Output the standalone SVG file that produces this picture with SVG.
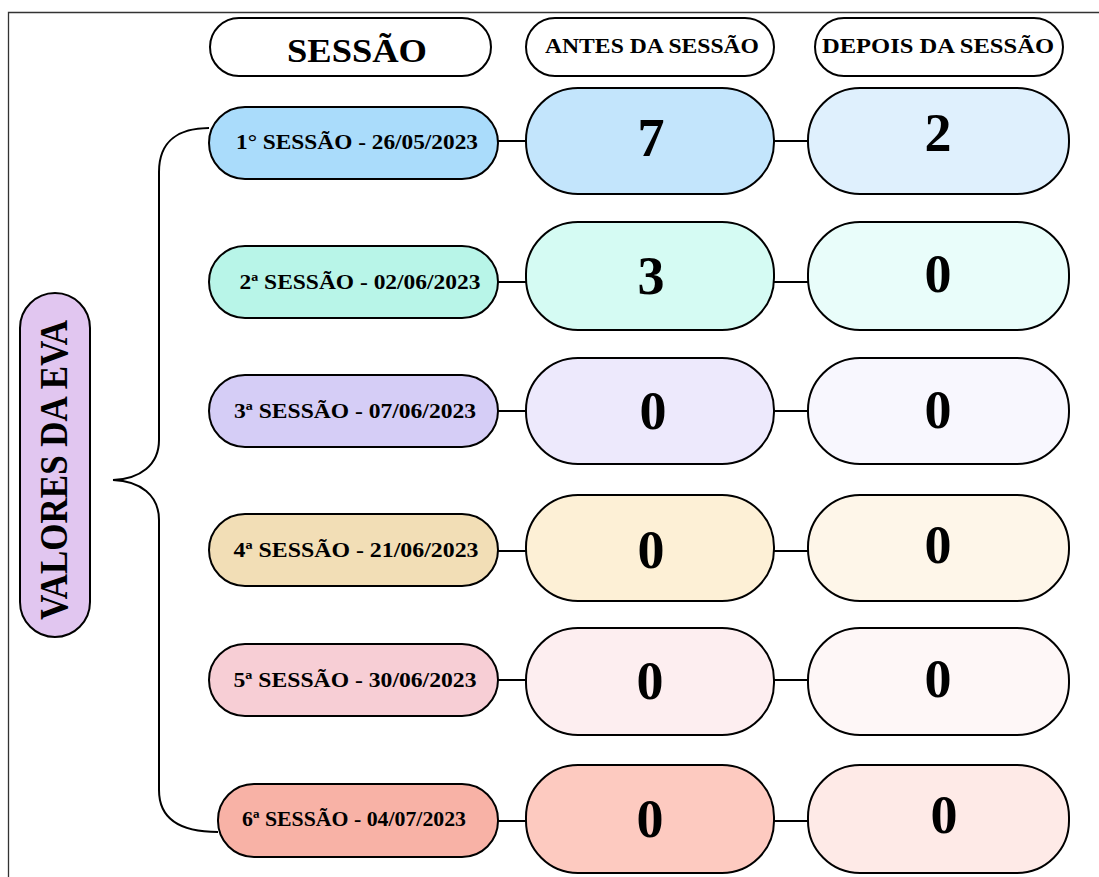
<svg xmlns="http://www.w3.org/2000/svg" width="1099" height="877" viewBox="0 0 1099 877">
<style>
.n{stroke:#000;stroke-width:2}
.c{stroke:#000;stroke-width:2;fill:none}
.t{font-family:"Liberation Serif","Times New Roman",serif;font-weight:bold;fill:#000;text-anchor:middle}
.s{font-size:20.5px}
.h{font-size:20px}
.v{font-size:54px}
</style>
<rect width="1099" height="877" fill="#fff"/>
<path d="M8.5 877 V12.5 H1099" fill="none" stroke="#333" stroke-width="1.3"/>
<g id="connectors">
<path class="c" d="M209 128 C180 128 159 140 159 172 V440 C159 465 140 479 113 480 C140 481 159 495 159 520 V790 C159 818 178 832 218 832"/>
<path class="c" d="M498 141 H526 M774 141 H808"/>
<path class="c" d="M498 282 H526 M774 282 H808"/>
<path class="c" d="M498 411 H526 M774 411 H808"/>
<path class="c" d="M498 551 H526 M774 551 H808"/>
<path class="c" d="M498 680 H526 M774 680 H808"/>
<path class="c" d="M498 821 H526 M774 821 H808"/>
</g>
<g id="h-sessao"><rect class="n" x="210" y="18" width="281" height="58" rx="29" fill="#fff"/><text class="t" x="357" y="62" font-size="33" textLength="140" lengthAdjust="spacingAndGlyphs">SESSÃO</text></g>
<g id="h-antes"><rect class="n" x="526" y="18" width="248" height="58" rx="29" fill="#fff"/><text class="t h" x="652" y="53" textLength="214" lengthAdjust="spacingAndGlyphs">ANTES DA SESSÃO</text></g>
<g id="h-depois"><rect class="n" x="815" y="18" width="248" height="58" rx="29" fill="#fff"/><text class="t h" x="938" y="53" textLength="232" lengthAdjust="spacingAndGlyphs">DEPOIS DA SESSÃO</text></g>
<g id="valores"><rect class="n" x="20" y="293" width="70" height="344" rx="35" fill="#e1c6f0"/><text class="t" transform="translate(67 470) rotate(-90)" font-size="41" textLength="300" lengthAdjust="spacingAndGlyphs">VALORES DA EVA</text></g>
<g id="s1"><rect class="n" x="209" y="107" width="289" height="72" rx="36" fill="#aadcfb"/><text class="t s" x="357" y="149" textLength="242" lengthAdjust="spacingAndGlyphs">1° SESSÃO - 26/05/2023</text></g>
<g id="a1"><rect class="n" x="526" y="88" width="248" height="106" rx="52" fill="#c3e5fc"/><text class="t v" x="651" y="156">7</text></g>
<g id="d1"><rect class="n" x="808" y="88" width="261" height="106" rx="52" fill="#dff0fd"/><text class="t v" x="938" y="151">2</text></g>
<g id="s2"><rect class="n" x="209" y="246" width="289" height="72" rx="36" fill="#b8f5e8"/><text class="t s" x="360" y="289" textLength="241" lengthAdjust="spacingAndGlyphs">2ª SESSÃO - 02/06/2023</text></g>
<g id="a2"><rect class="n" x="526" y="222" width="248" height="108" rx="52" fill="#d5fbf3"/><text class="t v" x="651" y="294">3</text></g>
<g id="d2"><rect class="n" x="808" y="222" width="261" height="108" rx="52" fill="#e9fdfa"/><text class="t v" x="938" y="292">0</text></g>
<g id="s3"><rect class="n" x="209" y="375" width="289" height="72" rx="36" fill="#d5cdf6"/><text class="t s" x="355" y="418" textLength="242" lengthAdjust="spacingAndGlyphs">3ª SESSÃO - 07/06/2023</text></g>
<g id="a3"><rect class="n" x="526" y="358" width="248" height="106" rx="52" fill="#ede9fc"/><text class="t v" x="653" y="429">0</text></g>
<g id="d3"><rect class="n" x="808" y="358" width="261" height="106" rx="52" fill="#f8f7fe"/><text class="t v" x="938" y="428">0</text></g>
<g id="s4"><rect class="n" x="209" y="514" width="289" height="72" rx="36" fill="#f2deb6"/><text class="t s" x="356" y="557" textLength="245" lengthAdjust="spacingAndGlyphs">4ª SESSÃO - 21/06/2023</text></g>
<g id="a4"><rect class="n" x="526" y="495" width="248" height="106" rx="52" fill="#fdf0d6"/><text class="t v" x="651" y="568">0</text></g>
<g id="d4"><rect class="n" x="808" y="495" width="261" height="106" rx="52" fill="#fef6e9"/><text class="t v" x="938" y="563">0</text></g>
<g id="s5"><rect class="n" x="209" y="644" width="289" height="72" rx="36" fill="#f7ced5"/><text class="t s" x="355" y="687" textLength="243" lengthAdjust="spacingAndGlyphs">5ª SESSÃO - 30/06/2023</text></g>
<g id="a5"><rect class="n" x="526" y="628" width="248" height="107" rx="52" fill="#fdeef0"/><text class="t v" x="650" y="699">0</text></g>
<g id="d5"><rect class="n" x="808" y="628" width="261" height="107" rx="52" fill="#fef7f7"/><text class="t v" x="938" y="697">0</text></g>
<g id="s6"><rect class="n" x="218" y="784" width="280" height="73" rx="36" fill="#f8b2a6"/><text class="t s" x="354" y="826" textLength="224" lengthAdjust="spacingAndGlyphs">6ª SESSÃO - 04/07/2023</text></g>
<g id="a6"><rect class="n" x="526" y="765" width="248" height="108" rx="52" fill="#fdcac0"/><text class="t v" x="650" y="837">0</text></g>
<g id="d6"><rect class="n" x="808" y="765" width="261" height="108" rx="52" fill="#feeae7"/><text class="t v" x="944" y="833">0</text></g>
</svg>
